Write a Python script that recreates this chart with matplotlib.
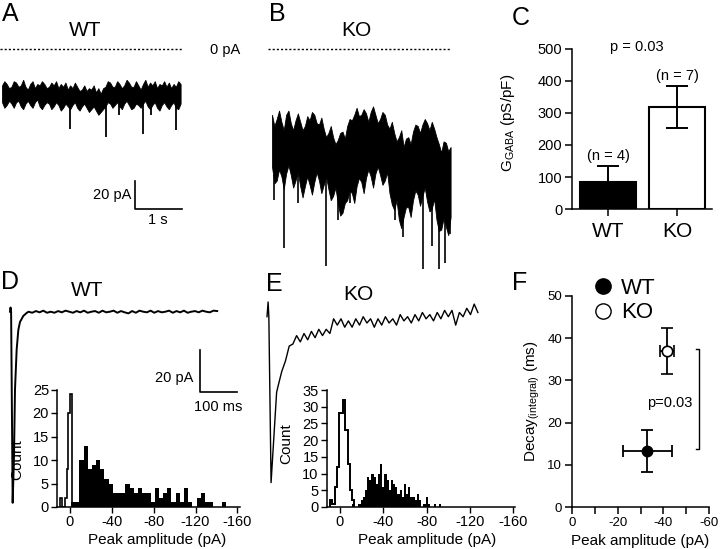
import numpy as np
import matplotlib
matplotlib.use("Agg")
import matplotlib.pyplot as plt
from matplotlib.lines import Line2D

plt.rcParams['font.family'] = ['Liberation Sans', 'DejaVu Sans']
plt.rcParams['mathtext.default'] = 'regular'
plt.rcParams['axes.unicode_minus'] = False
plt.rcParams['axes.linewidth'] = 1.1

# ========== DATA ========== #
# A / B: raw recordings, band envelope every 0.05 s (pA) + individual events
A_top = [-26, -23, -25, -28, -27, -23, -24, -27, -26, -22, -27, -29, -25, -23, -28, -25, -26, -23, -25, -28,
         -27, -24, -26, -23, -28, -25, -27, -24, -29, -26, -28, -24, -27, -30, -29, -26, -30, -28, -29, -26,
         -31, -28, -32, -28, -27, -23, -24, -27, -27, -23, -25, -28, -26, -22, -24, -27, -27, -23, -26, -29,
         -25, -22, -27, -24, -26, -23, -28, -25, -26, -23, -27, -24, -28, -25, -27, -23, -25]
A_bot = [-38, -42, -40, -37, -39, -42, -38, -37, -41, -43, -39, -37, -40, -42, -38, -36, -41, -43, -40, -38,
         -39, -43, -41, -38, -40, -44, -42, -39, -41, -43, -40, -38, -42, -44, -41, -39, -42, -45, -43, -41,
         -44, -47, -45, -43, -41, -38, -39, -42, -40, -38, -41, -43, -39, -37, -40, -43, -42, -39, -40, -42,
         -39, -37, -41, -43, -40, -38, -42, -44, -40, -38, -41, -43, -40, -38, -42, -43, -39]
A_evt_t = [1.45, 2.21, 2.48, 2.99, 3.17, 3.70]
A_evt_pk = [-57, -63, -47, -61, -47, -58]

B_top = [-47, -55, -50, -44, -52, -58, -47, -44, -53, -58, -51, -46, -52, -58, -55, -48, -51, -45, -47, -53,
         -54, -49, -57, -63, -60, -55, -63, -68, -65, -60, -59, -64, -55, -50, -51, -47, -42, -48, -47, -43,
         -46, -52, -45, -41, -47, -53, -50, -45, -47, -54, -57, -52, -60, -66, -63, -58, -70, -64, -63, -68,
         -59, -54, -55, -60, -54, -50, -53, -58, -52, -57, -63, -68, -74, -66, -67, -73, -70]
B_bot = [-84, -96, -94, -86, -91, -100, -89, -83, -90, -99, -94, -88, -98, -106, -98, -91, -97, -104, -95, -88,
         -94, -103, -97, -91, -100, -108, -105, -99, -110, -119, -117, -110, -108, -101, -103, -110, -98, -92, -95, -103,
         -92, -86, -91, -99, -89, -84, -90, -97, -94, -88, -103, -111, -115, -108, -122, -128, -120, -113, -113, -120,
         -108, -101, -104, -112, -105, -99, -109, -116, -114, -107, -122, -130, -129, -121, -127, -133, -120]
B_evt_t = [0.05, 0.26, 0.56, 1.15, 1.41, 1.66, 2.62, 2.79, 3.21, 3.40, 3.55, 3.68, 3.79]
B_evt_pk = [-108, -142, -110, -155, -122, -110, -122, -134, -157, -141, -157, -153, -132]

# C: GABA conductance
groups = ['WT', 'KO']
C_mean = [84, 319]
C_sem = [50, 65]
C_n = [4, 7]

# D / E: averaged events (ms, pA)
D_fast_t = [0, 1.5, 3, 7.2, 10.8, 13.5, 18, 22.5, 27, 36, 45]
D_fast = [0, 2, 0, -91, -69, -37, -18, -8.7, -4.9, -2, -0.6]
D_tail = [0, -0.5, 0.3, -0.3, 0.5, -0.5, 0, -0.5, 0.3, -0.3, 0.5, 0, -0.5, 0.3, -0.3, 0.5, -0.5, 0, 0.3, -0.5,
          0.5, -0.3, 0, 0.5, -0.5, 0.3, -0.3, -0.8, 0.3, -0.5, 0.5, 0, -0.3, 0.5, -0.5, 0.3, -0.3, 0, 0.5, -0.5,
          0.3, -0.3, 0.5, -0.5, 0, 0.3, -0.3, 0.5, 0, -0.3, 0.5, 0.3]   # every 10 ms from 50 ms

E_fast_t = [0, 3, 5, 11, 26]
E_fast = [0, 7, 0, -79, -36]
E_tail = [-33, -26, -21, -14, -13, -9, -12, -8, -11, -7, -10, -6, -9, -6, -8, -1, -4, -1, -5, -2,
          -5, -1, -4, 0, -3, -1, -5, -1, -4, 0, -3, -1, -4, 1, -2, 0, -3, 1, -2, 2,
          -1, 1, -2, 2, -1, 3, 0, 3, -4, 2, 0, 4, 1, 6, 2]       # every 10 ms from 30 ms

# D / E: peak amplitude histograms (bins run towards negative amplitudes)
D_noise_start, D_noise_w = 9.6, 1.6
D_noise = [2, 0, 0, 2, 8, 20, 24]
D_evt_start, D_evt_w = -1, 4
D_evt = [1, 1, 10, 13, 8, 9, 10, 8, 6, 5, 3, 3, 3, 5, 4, 3, 4, 3, 3, 1,
         4, 2, 3, 4, 1, 3, 1, 4, 1, 0, 2, 3, 1, 1, 0, 0, 1]

E_noise_start, E_noise_w = 9, 2
E_noise = [2, 1, 6, 12, 28, 28, 32, 23, 13, 5, 2]
E_evt_start, E_evt_w = -11, 2
E_evt = [1, 0, 0, 1, 2, 3, 5, 9, 8, 10, 9, 7, 10, 13, 6, 10, 8, 5, 8, 7,
         6, 4, 5, 3, 7, 4, 6, 3, 3, 2, 4, 2, 0, 1, 3, 1, 0, 0, 1, 0, 1]

# F: decay vs amplitude
F_amp = [-33, -41.6]
F_amp_err = [10.6, 3.2]
F_decay = [13.2, 36.9]
F_decay_err = [5.0, 5.5]

# ========== LAYOUT HELPERS ========== #
W, H = 720, 549
fig = plt.figure(figsize=(W / 100, H / 100), dpi=100)


def fx(px):
    return px / W


def fy(py):
    return 1 - py / H


def px_axes(x0, y0, x1, y1):
    return fig.add_axes([x0 / W, 1 - y1 / H, (x1 - x0) / W, (y1 - y0) / H])


def trace_axes(x0, y0, x1, y1, t0_px, px_per_t, zero_px, px_per_pa):
    ax = px_axes(x0, y0, x1, y1)
    ax.set_xlim((x0 - t0_px) / px_per_t, (x1 - t0_px) / px_per_t)
    ax.set_ylim((zero_px - y1) / px_per_pa, (zero_px - y0) / px_per_pa)
    ax.axis('off')
    return ax


def edges(start, width, n):
    return start - width * np.arange(n + 1)


def style_hist(ax, ymax, ystep):
    ax.set_facecolor('none')
    for s in ['top', 'right']:
        ax.spines[s].set_visible(False)
    ax.set_xlim(12, -162)
    ax.set_ylim(0, ymax)
    ax.set_xticks([0, -40, -80, -120, -160])
    ax.set_yticks(np.arange(0, ymax + 1, ystep))
    ax.tick_params(labelsize=10.5, length=4, width=1, pad=2)
    ax.set_xlabel('Peak amplitude (pA)', fontsize=11)
    ax.set_ylabel('Count', fontsize=11)


DOTS = (0, (1.5, 1.5))

# ========== A ========== #
axA = trace_axes(0, 40, 245, 235, 2, 47, 49, 1.4)
tA = np.arange(len(A_top)) * 0.05
axA.fill_between(tA, A_bot, A_top, color='black', lw=0.6)
axA.vlines(A_evt_t, -34, A_evt_pk, color='black', lw=1.3)
axA.plot([-0.04, 3.85], [0, 0], ls=DOTS, color='black', lw=1)
axA.plot([2.83, 2.83, 3.83], [-94.3, -114.3, -114.3], color='black', lw=1.2)

# ========== B ========== #
axB = trace_axes(255, 40, 470, 285, 272, 47, 49, 1.4)
tB = np.arange(len(B_top)) * 0.05
axB.fill_between(tB, B_bot, B_top, color='black', lw=0.6)
axB.vlines(B_evt_t, -90, B_evt_pk, color='black', lw=1.2)
axB.plot([-0.085, 3.81], [0, 0], ls=DOTS, color='black', lw=1)

# ========== C ========== #
axC = px_axes(572, 49, 712, 209)
axC.bar([0, 1], C_mean, width=0.81, color=['black', 'white'], edgecolor='black', lw=1.5, zorder=2)
axC.errorbar([0, 1], C_mean, yerr=C_sem, fmt='none', ecolor='black', elinewidth=1.4,
             capsize=8, capthick=1.4, zorder=3)
for i, (m, s, n) in enumerate(zip(C_mean, C_sem, C_n)):
    axC.annotate(f'(n = {n})', (i, m + s), xytext=(0, 2), textcoords='offset points',
                 ha='center', va='bottom', fontsize=10.5)
axC.set_xlim(-0.52, 1.5)
axC.set_ylim(0, 500)
axC.set_yticks([0, 100, 200, 300, 400, 500])
axC.set_xticks([0, 1])
axC.set_xticklabels(groups, fontsize=15)
axC.tick_params(axis='y', labelsize=10.5, length=5, width=1.1, pad=2)
axC.tick_params(axis='x', length=5, width=1.1, pad=4)
for s in ['top', 'right']:
    axC.spines[s].set_visible(False)
axC.set_ylabel('G$_{GABA}$ (pS/pF)', fontsize=11)
axC.yaxis.set_label_coords(-0.39, 0.54)

# ========== D ========== #
axD = trace_axes(0, 295, 255, 515, 10, 0.37, 311.7, 2.1)
tD = 50 + 10 * np.arange(len(D_tail))
axD.plot(D_fast_t + list(tD), D_fast + D_tail, color='black', lw=1.4)
axD.plot([513.5, 513.5, 613.5], [-18.2, -38.2, -38.2], color='black', lw=1.2)

axDh = px_axes(57.4, 389.5, 239.5, 507)
axDh.stairs(D_evt[::-1], edges(D_evt_start, D_evt_w, len(D_evt))[::-1], fill=True, color='black')
axDh.stairs(D_noise[::-1], edges(D_noise_start, D_noise_w, len(D_noise))[::-1],
            fill=False, color='black', lw=1.2, baseline=0)
style_hist(axDh, 25, 5)
axDh.xaxis.set_label_coords(0.55, -0.22)
axDh.yaxis.set_label_coords(-0.18, 0.40)

# ========== E ========== #
axE = trace_axes(255, 295, 500, 515, 267, 0.37, 316.7, 2.1)
tE = 30 + 10 * np.arange(len(E_tail))
axE.plot(E_fast_t + list(tE), E_fast + E_tail, color='black', lw=1.0)

axEh = px_axes(327, 390, 515.4, 507)
axEh.stairs(E_evt[::-1], edges(E_evt_start, E_evt_w, len(E_evt))[::-1], fill=True, color='black')
axEh.stairs(E_noise[::-1], edges(E_noise_start, E_noise_w, len(E_noise))[::-1],
            fill=False, color='black', lw=1.4, baseline=0)
style_hist(axEh, 35, 5)
axEh.xaxis.set_label_coords(0.53, -0.22)
axEh.yaxis.set_label_coords(-0.18, 0.54)

# ========== F ========== #
axF = px_axes(572, 296, 709, 507)
axF.errorbar(F_amp[0], F_decay[0], xerr=F_amp_err[0], yerr=F_decay_err[0], fmt='o', ms=7.5,
             mfc='black', mec='black', ecolor='black', elinewidth=1.3, capsize=4, capthick=1.3)
axF.errorbar(F_amp[1], F_decay[1], xerr=F_amp_err[1], yerr=F_decay_err[1], fmt='o', ms=7.5,
             mfc='white', mec='black', mew=1.2, ecolor='black', elinewidth=1.3, capsize=4,
             capthick=1.3, zorder=3)
axF.plot([-54.2, -55.8, -55.8, -54.2], [F_decay[1] + 0.5, F_decay[1] + 0.5, F_decay[0] + 0.5,
                                          F_decay[0] + 0.5], color='black', lw=1)
axF.text(-43, 24.6, 'p=0.03', ha='center', va='center', fontsize=10.5)
axF.set_xlim(0, -60)
axF.set_ylim(0, 50)
axF.set_xticks([0, -20, -40, -60])
axF.set_xticks([-10, -30, -50], minor=True)
axF.set_yticks([0, 10, 20, 30, 40, 50])
axF.tick_params(which='both', labelsize=9.5, length=5, width=1.1, pad=2)
for s in ['top', 'right']:
    axF.spines[s].set_visible(False)
axF.set_xlabel('Peak amplitude (pA)', fontsize=11)
axF.set_ylabel('Decay$_{(integral)}$ (ms)', fontsize=11)
handles = [Line2D([], [], ls='none', marker='o', ms=11, mfc='black', mec='black'),
           Line2D([], [], ls='none', marker='o', ms=11, mfc='white', mec='black', mew=1)]
axF.legend(handles, groups, loc='upper left', bbox_to_anchor=(fx(592), fy(278)),
           bbox_transform=fig.transFigure, frameon=False, fontsize=16, handlelength=1.0,
           handletextpad=0.3, labelspacing=0.15, borderpad=0, borderaxespad=0)

# ========== TEXT ========== #
for lab, x, y in [('A', 10, 14), ('B', 277, 14), ('C', 521, 18), ('D', 10, 282), ('E', 274, 284), ('F', 520, 283)]:
    fig.text(fx(x), fy(y), lab, fontsize=18, ha='center', va='center')
fig.text(fx(85), fy(31), 'WT', fontsize=15, ha='center', va='center')
fig.text(fx(356), fy(31), 'KO', fontsize=15, ha='center', va='center')
fig.text(fx(87), fy(291), 'WT', fontsize=15, ha='center', va='center')
fig.text(fx(358), fy(295), 'KO', fontsize=15, ha='center', va='center')
fig.text(fx(210), fy(50), '0 pA', fontsize=10.5, ha='left', va='center')
fig.text(fx(131), fy(195), '20 pA', fontsize=10.5, ha='right', va='center')
fig.text(fx(158), fy(220), '1 s', fontsize=10.5, ha='center', va='center')
fig.text(fx(193), fy(378), '20 pA', fontsize=10.5, ha='right', va='center')
fig.text(fx(218), fy(407), '100 ms', fontsize=10.5, ha='center', va='center')
fig.text(fx(637), fy(47), 'p = 0.03', fontsize=10.5, ha='center', va='center')

fig.savefig('out.png', dpi=100)
